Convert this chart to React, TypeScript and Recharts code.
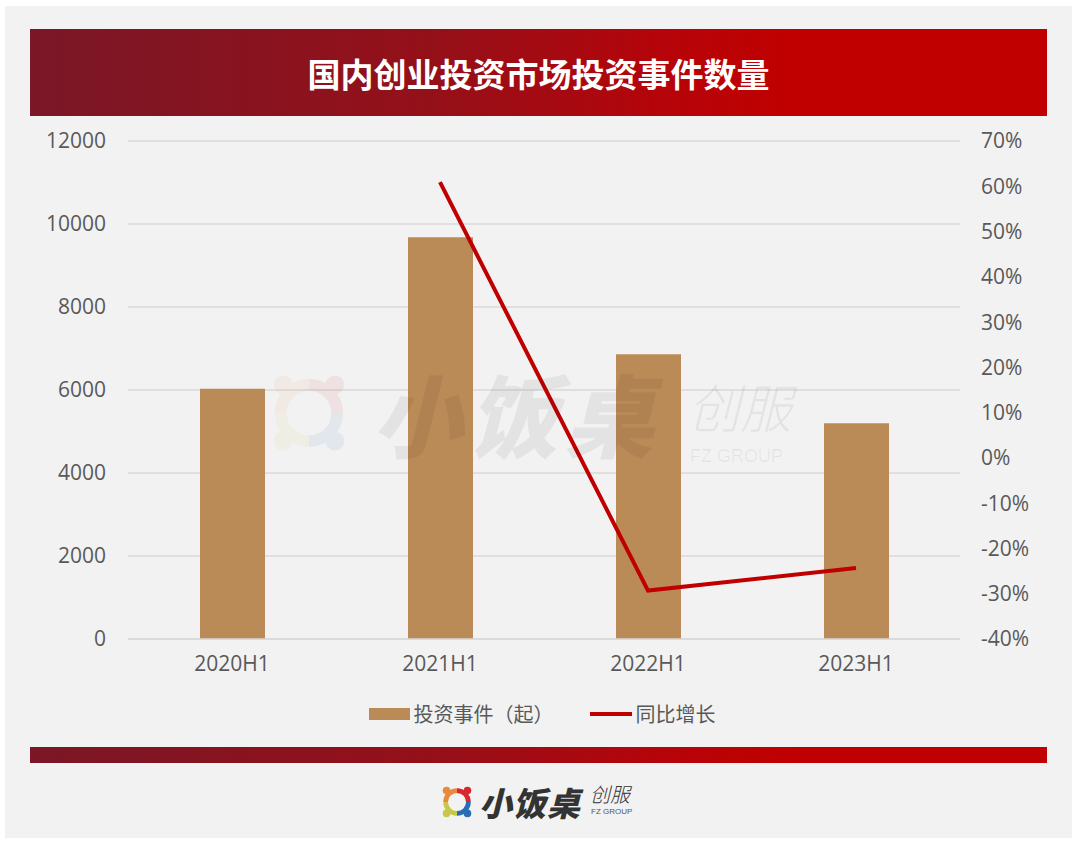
import { Bar, CartesianGrid, ComposedChart, Line, XAxis, YAxis } from "recharts";

// values
const categories = ["2020H1", "2021H1", "2022H1", "2023H1"];
const investEvents = [6030, 9680, 6860, 5200];
const yoyGrowth = [null, 60.9, -29.3, -24.3];
const leftTicks = [0, 2000, 4000, 6000, 8000, 10000, 12000];
const rightTicks = [-40, -30, -20, -10, 0, 10, 20, 30, 40, 50, 60, 70];

const data = categories.map((name, i) => ({
  name,
  events: investEvents[i],
  growth: yoyGrowth[i],
}));

const BAR = "#bb8b57";
const LINE = "#c00000";
const TEXT = "#595959";
const GRID = "#d9d9d9";
const NUM_FONT = "'Open Sans', 'Noto Sans CJK SC', sans-serif";
const CJK_FONT = "'Noto Sans CJK SC', sans-serif";
const BANNER = "linear-gradient(90deg, #7a1727 0%, #951019 40%, #b5040a 62%, #c00000 75%, #c00000 100%)";

const tick = { fill: TEXT, fontSize: 21, fontFamily: NUM_FONT };

function RingLogo({ size, opacity = 1 }: { size: number; opacity?: number }) {
  return (
    <svg width={size} height={size} viewBox="0 0 40 40" style={{ opacity }}>
      <path d="M8 20 A12 12 0 0 1 20 8" stroke="#e8893c" strokeWidth="5" fill="none" />
      <path d="M20 8 A12 12 0 0 1 32 20" stroke="#d7282d" strokeWidth="5" fill="none" />
      <path d="M32 20 A12 12 0 0 1 20 32" stroke="#2a6db3" strokeWidth="5" fill="none" />
      <path d="M20 32 A12 12 0 0 1 8 20" stroke="#c9c74a" strokeWidth="5" fill="none" />
      <circle cx="9" cy="8" r="4" fill="#e8893c" />
      <circle cx="31" cy="8" r="4" fill="#d7282d" />
      <circle cx="31" cy="32" r="4" fill="#2a6db3" />
      <circle cx="9" cy="32" r="4" fill="#c9c74a" />
    </svg>
  );
}

export default function App() {
  return (
    <div style={{ position: "absolute", left: 0, top: 0, width: 1080, height: 842, background: "#ffffff", overflow: "hidden" }}>
      <div style={{ position: "absolute", left: 5, top: 6, width: 1067, height: 832, background: "#f2f2f2" }} />
      <div
        style={{
          position: "absolute",
          left: 30,
          top: 29,
          width: 1017,
          height: 87,
          background: BANNER,
          display: "flex",
          alignItems: "center",
          justifyContent: "center",
          color: "#ffffff",
          fontFamily: CJK_FONT,
          fontWeight: 700,
          fontSize: 33,
        }}
      >
        国内创业投资市场投资事件数量
      </div>
      <div style={{ position: "absolute", left: 30, top: 747, width: 1017, height: 16, background: BANNER }} />

      <div style={{ position: "absolute", left: 0, top: 0 }}>
        <ComposedChart width={1080} height={842} data={data} margin={{ top: 141, right: 40, bottom: 173, left: 48 }}>
          <CartesianGrid yAxisId="left" vertical={false} stroke={GRID} strokeWidth={1.5} />
          <XAxis
            dataKey="name"
            height={30}
            axisLine={{ stroke: GRID, strokeWidth: 1.5 }}
            tickLine={false}
            tickSize={0}
            tickMargin={17}
            tick={tick}
          />
          <YAxis
            yAxisId="left"
            width={80}
            domain={[0, 12000]}
            ticks={leftTicks}
            axisLine={false}
            tickLine={false}
            tickSize={0}
            tickMargin={22}
            tick={tick}
          />
          <YAxis
            yAxisId="right"
            orientation="right"
            width={80}
            domain={[-40, 70]}
            ticks={rightTicks}
            axisLine={false}
            tickLine={false}
            tickSize={0}
            tickMargin={21}
            tick={tick}
            tickFormatter={(v: number) => `${v}%`}
          />
          <Bar yAxisId="left" dataKey="events" name="投资事件（起）" fill={BAR} barSize={65} isAnimationActive={false} />
          <Line
            yAxisId="right"
            dataKey="growth"
            name="同比增长"
            stroke={LINE}
            strokeWidth={4}
            dot={false}
            activeDot={false}
            isAnimationActive={false}
          />
        </ComposedChart>
      </div>

      {/* faint watermark */}
      <div style={{ position: "absolute", left: 262, top: 366, pointerEvents: "none" }}>
        <RingLogo size={94} opacity={0.08} />
      </div>
      <div
        style={{
          position: "absolute",
          left: 372,
          top: 362,
          fontFamily: CJK_FONT,
          fontWeight: 900,
          fontStyle: "italic",
          fontSize: 90,
          color: "rgba(0,0,0,0.06)",
          letterSpacing: 6,
          lineHeight: "100px",
          pointerEvents: "none",
        }}
      >
        小饭桌
      </div>
      <div
        style={{
          position: "absolute",
          left: 688,
          top: 380,
          fontFamily: CJK_FONT,
          fontWeight: 300,
          fontStyle: "italic",
          fontSize: 52,
          color: "rgba(0,0,0,0.06)",
          lineHeight: "52px",
          pointerEvents: "none",
        }}
      >
        创服
      </div>
      <div
        style={{
          position: "absolute",
          left: 690,
          top: 446,
          fontFamily: "'Liberation Sans', sans-serif",
          fontSize: 18,
          color: "rgba(0,0,0,0.06)",
          lineHeight: "20px",
          pointerEvents: "none",
        }}
      >
        FZ GROUP
      </div>

      {/* legend */}
      <div
        style={{
          position: "absolute",
          left: 0,
          top: 700,
          width: 1084,
          display: "flex",
          justifyContent: "center",
          alignItems: "center",
          fontFamily: CJK_FONT,
          fontSize: 20,
          color: TEXT,
          lineHeight: "28px",
        }}
      >
        <span style={{ display: "inline-block", width: 41, height: 12, background: BAR, marginRight: 4 }} />
        <span>投资事件（起）</span>
        <span style={{ display: "inline-block", width: 42, height: 4, background: LINE, marginLeft: 36, marginRight: 4 }} />
        <span>同比增长</span>
      </div>

      {/* bottom logo */}
      <div style={{ position: "absolute", left: 438, top: 783 }}>
        <RingLogo size={38} />
      </div>
      <div
        style={{
          position: "absolute",
          left: 479,
          top: 780,
          fontFamily: CJK_FONT,
          fontWeight: 900,
          fontStyle: "italic",
          fontSize: 33,
          color: "#333333",
          lineHeight: "44px",
          letterSpacing: 1,
        }}
      >
        小饭桌
      </div>
      <div
        style={{
          position: "absolute",
          left: 590,
          top: 782,
          fontFamily: CJK_FONT,
          fontWeight: 300,
          fontStyle: "italic",
          fontSize: 20,
          color: "#333333",
          lineHeight: "24px",
        }}
      >
        创服
      </div>
      <div
        style={{
          position: "absolute",
          left: 591,
          top: 807,
          fontFamily: "'Liberation Sans', sans-serif",
          fontSize: 8,
          color: "#555555",
          lineHeight: "10px",
        }}
      >
        FZ GROUP
      </div>
    </div>
  );
}
